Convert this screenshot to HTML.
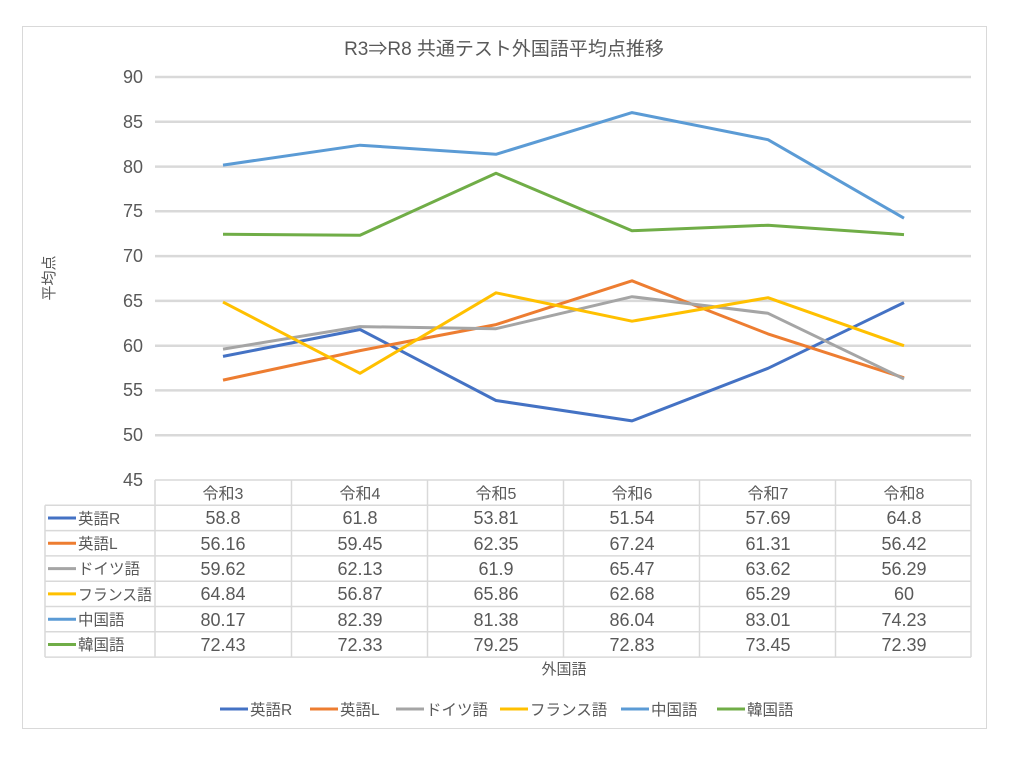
<!DOCTYPE html>
<html><head><meta charset="utf-8"><style>
html,body{margin:0;padding:0;background:#fff;}
svg text{font-family:"Liberation Sans","Noto Sans CJK JP",sans-serif;fill:#595959;}
</style></head><body>
<svg width="1014" height="765" viewBox="0 0 1014 765" xmlns="http://www.w3.org/2000/svg">
<rect x="22.5" y="26.5" width="964" height="702" fill="#fff" stroke="#d9d9d9"/>
<text x="504" y="55" font-size="19" text-anchor="middle">R3⇒R8 共通テスト外国語平均点推移</text>
<g stroke="#d9d9d9" stroke-width="2.5">
<line x1="155" x2="971" y1="77" y2="77"/><line x1="155" x2="971" y1="121.8" y2="121.8"/>
<line x1="155" x2="971" y1="166.6" y2="166.6"/><line x1="155" x2="971" y1="211.3" y2="211.3"/>
<line x1="155" x2="971" y1="256.1" y2="256.1"/><line x1="155" x2="971" y1="300.9" y2="300.9"/>
<line x1="155" x2="971" y1="345.7" y2="345.7"/><line x1="155" x2="971" y1="390.4" y2="390.4"/>
<line x1="155" x2="971" y1="435.2" y2="435.2"/>
</g>
<g font-size="18" text-anchor="end">
<text x="143" y="83">90</text><text x="143" y="128">85</text><text x="143" y="173">80</text>
<text x="143" y="217">75</text><text x="143" y="262">70</text><text x="143" y="307">65</text>
<text x="143" y="352">60</text><text x="143" y="396">55</text><text x="143" y="441">50</text>
<text x="143" y="486">45</text>
</g>
<text transform="translate(54,278) rotate(-90)" font-size="15" text-anchor="middle">平均点</text>
<g fill="none" stroke-width="3" stroke-linejoin="round">
<polyline stroke="#4472C4" points="223,356.4 360,329.5 496,400.5 632,420.9 768,368.3 904,302.6"/>
<polyline stroke="#ED7D31" points="223,380.1 360,350.6 496,324.6 632,280.8 768,333.9 904,377.8"/>
<polyline stroke="#A5A5A5" points="223,349.1 360,326.6 496,328.7 632,296.7 768,313.3 904,378.9"/>
<polyline stroke="#FFC000" points="223,302.1 360,373.3 496,292.8 632,321.2 768,297.7 904,345.7"/>
<polyline stroke="#5B9BD5" points="223,165.1 360,145.2 496,154.3 632,112.6 768,139.7 904,218.2"/>
<polyline stroke="#70AD47" points="223,234.3 360,235.2 496,173.2 632,230.7 768,225.2 904,234.6"/>
</g>
<g stroke="#d9d9d9" stroke-width="1.5" fill="none">
<line x1="155" x2="971" y1="480" y2="480"/>
<line x1="45" x2="971" y1="505.3" y2="505.3"/><line x1="45" x2="971" y1="530.6" y2="530.6"/>
<line x1="45" x2="971" y1="555.9" y2="555.9"/><line x1="45" x2="971" y1="581.2" y2="581.2"/>
<line x1="45" x2="971" y1="606.5" y2="606.5"/><line x1="45" x2="971" y1="631.8" y2="631.8"/>
<line x1="45" x2="971" y1="657.1" y2="657.1"/>
<line x1="45" x2="45" y1="505.3" y2="657.1"/>
<line x1="155" x2="155" y1="480" y2="657.1"/><line x1="291.5" x2="291.5" y1="480" y2="657.1"/>
<line x1="427.5" x2="427.5" y1="480" y2="657.1"/><line x1="563.5" x2="563.5" y1="480" y2="657.1"/>
<line x1="699.5" x2="699.5" y1="480" y2="657.1"/><line x1="835.5" x2="835.5" y1="480" y2="657.1"/>
<line x1="971" x2="971" y1="480" y2="657.1"/>
</g>
<g font-size="16" text-anchor="middle" style="font-family:'Noto Sans CJK JP',sans-serif">
<text x="223" y="499">令和3</text><text x="360" y="499">令和4</text><text x="496" y="499">令和5</text>
<text x="632" y="499">令和6</text><text x="768" y="499">令和7</text><text x="904" y="499">令和8</text>
</g>
<g stroke-width="3">
<line x1="48" x2="76" y1="518" y2="518" stroke="#4472C4"/>
<line x1="48" x2="76" y1="543.3" y2="543.3" stroke="#ED7D31"/>
<line x1="48" x2="76" y1="568.6" y2="568.6" stroke="#A5A5A5"/>
<line x1="48" x2="76" y1="593.9" y2="593.9" stroke="#FFC000"/>
<line x1="48" x2="76" y1="619.2" y2="619.2" stroke="#5B9BD5"/>
<line x1="48" x2="76" y1="644.5" y2="644.5" stroke="#70AD47"/>
</g>
<g font-size="15.5">
<text x="78" y="524">英語R</text><text x="78" y="549">英語L</text><text x="78" y="574">ドイツ語</text>
<text x="78" y="600" textLength="74" lengthAdjust="spacingAndGlyphs">フランス語</text><text x="78" y="625">中国語</text><text x="78" y="650">韓国語</text>
</g>
<g font-size="18" text-anchor="middle">
<text x="223" y="524">58.8</text><text x="360" y="524">61.8</text><text x="496" y="524">53.81</text><text x="632" y="524">51.54</text><text x="768" y="524">57.69</text><text x="904" y="524">64.8</text>
<text x="223" y="550">56.16</text><text x="360" y="550">59.45</text><text x="496" y="550">62.35</text><text x="632" y="550">67.24</text><text x="768" y="550">61.31</text><text x="904" y="550">56.42</text>
<text x="223" y="575">59.62</text><text x="360" y="575">62.13</text><text x="496" y="575">61.9</text><text x="632" y="575">65.47</text><text x="768" y="575">63.62</text><text x="904" y="575">56.29</text>
<text x="223" y="600">64.84</text><text x="360" y="600">56.87</text><text x="496" y="600">65.86</text><text x="632" y="600">62.68</text><text x="768" y="600">65.29</text><text x="904" y="600">60</text>
<text x="223" y="626">80.17</text><text x="360" y="626">82.39</text><text x="496" y="626">81.38</text><text x="632" y="626">86.04</text><text x="768" y="626">83.01</text><text x="904" y="626">74.23</text>
<text x="223" y="651">72.43</text><text x="360" y="651">72.33</text><text x="496" y="651">79.25</text><text x="632" y="651">72.83</text><text x="768" y="651">73.45</text><text x="904" y="651">72.39</text>
</g>
<text x="564" y="674" font-size="15" text-anchor="middle">外国語</text>
<g stroke-width="3">
<line x1="220" x2="248" y1="709" y2="709" stroke="#4472C4"/>
<line x1="310" x2="338" y1="709" y2="709" stroke="#ED7D31"/>
<line x1="396" x2="424" y1="709" y2="709" stroke="#A5A5A5"/>
<line x1="500" x2="528" y1="709" y2="709" stroke="#FFC000"/>
<line x1="621" x2="649" y1="709" y2="709" stroke="#5B9BD5"/>
<line x1="717" x2="745" y1="709" y2="709" stroke="#70AD47"/>
</g>
<g font-size="15.5">
<text x="250" y="715">英語R</text><text x="340" y="715">英語L</text><text x="426" y="715">ドイツ語</text>
<text x="530" y="715">フランス語</text><text x="651" y="715">中国語</text><text x="747" y="715">韓国語</text>
</g>
</svg>
</body></html>
